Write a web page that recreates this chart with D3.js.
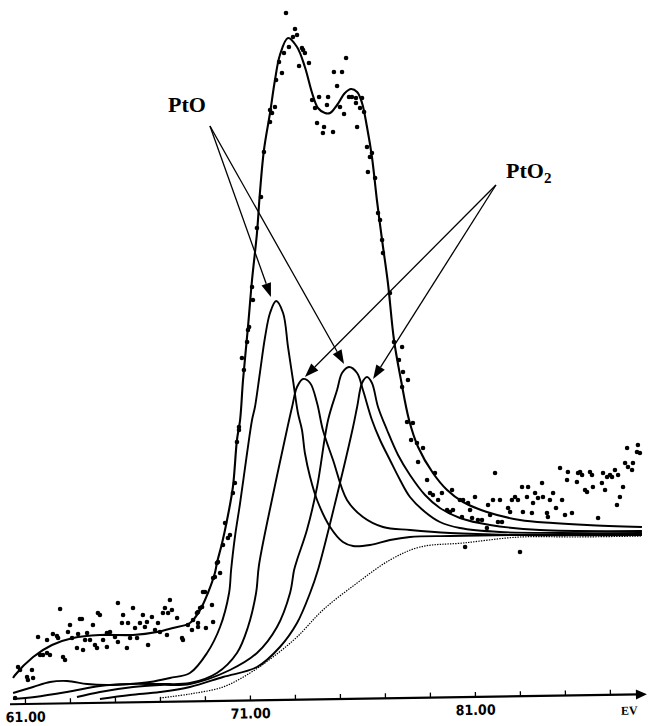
<!DOCTYPE html>
<html>
<head>
<meta charset="utf-8">
<script src="https://cdn.jsdelivr.net/npm/d3@7"></script>
<style>
  html, body { margin: 0; padding: 0; background: #fff; }
  svg { display: block; }
</style>
</head>
<body>
<svg id="chart" width="649" height="726"></svg>
<script>
// Pt 4f photoelectron spectrum: raw counts, fitted envelope,
// PtO and PtO2 doublet components and the background line.
// Each series is [binding energy (eV), counts].

const measured = [
  [72.60,6910],[73.00,6750],[73.09,6690],[72.91,6670],[72.73,6570],[72.51,6510],[72.29,6420],[72.42,6310],
  [72.16,6240],[72.11,5970],[71.89,5940],[71.98,5910],[71.89,5820],[71.62,5520],[71.49,5070],[71.31,4760],
  [71.09,4170],[73.31,6560],[73.36,6540],[73.44,6510],[73.62,6410],[73.18,6380],[73.76,6040],[73.89,5960],
  [74.07,6070],[74.47,6070],[74.42,5990],[73.98,5810],[74.24,5710],[74.29,5770],[74.69,5720],[74.73,6320],
  [75.09,6320],[74.87,6180],[75.27,6460],[75.00,5970],[75.18,5900],[75.40,6070],[75.53,6070],[75.71,6060],
  [75.98,6060],[75.71,6010],[75.89,5960],[76.07,5920],[75.76,5770],[76.20,5570],[76.42,5510],[76.33,5470],
  [76.24,5320],[76.56,5260],[76.69,4910],[76.78,4840],[76.87,4640],[76.91,4510],
  [71.13,4040],[70.96,3770],[70.91,3740],[70.87,3620],[70.64,3460],[70.73,3340],[70.51,2770],
  [77.22,4110],[77.40,3620],[77.76,3570],[77.62,3440],[77.80,3320],[77.76,3170],[78.02,3240],[77.98,2820],
  [70.51,2740],[70.42,2620],[70.33,2210],[70.24,2110],[69.89,1810],[70.11,1690],[70.02,1660],[69.80,1590],
  [69.53,1410],[69.58,1420],[69.67,1310],[69.44,1270],[69.00,1120],[69.31,990],[68.87,970],[68.69,920],
  [68.64,910],[68.47,840],[69.36,820],[68.69,770],[69.04,760],[68.42,740],
  [62.56,950],[61.58,670],[61.98,640],[62.24,700],[62.42,680],[62.47,660],[63.00,790],[62.91,720],
  [63.09,660],[63.44,850],[63.36,700],[63.76,710],[63.67,640],[63.89,640],[64.02,790],[64.24,910],
  [64.33,890],[64.64,710],[64.78,720],[65.00,670],[65.13,620],[64.47,640],[63.31,560],[63.58,540],
  [64.11,590],[64.20,560],[64.64,570],[62.69,470],[62.78,440],[65.13,1010],[65.36,890],[65.31,810],
  [65.58,810],[65.80,960],[65.89,760],[65.98,660],[65.53,560],[65.67,660],[66.24,890],[66.11,810],
  [66.42,820],[66.64,870],[66.33,770],[66.78,740],[66.91,810],[66.47,590],[67.00,720],[67.13,910],
  [67.22,960],[67.36,910],[67.44,1040],[67.53,940],[67.76,860],[67.31,690],[67.98,660],[68.02,640],
  [68.24,790],[68.69,810],[68.91,1120],[68.78,960],[69.36,1260],[63.53,850],
  [60.69,370],[60.78,340],[61.31,340],[61.09,270],[61.13,240],[61.36,260],[60.56,60],[61.80,490],
  [61.98,510],[62.11,490],[61.67,490],
  [78.69,2560],[79.22,2310],[78.87,2240],[79.00,2110],[79.13,2090],[79.36,2040],[79.53,2110],[79.98,2140],
  [79.76,1940],[79.89,1920],[80.02,1940],[80.33,2040],[80.47,2040],[80.42,1870],[80.69,2010],[80.78,1940],
  [81.00,2070],[80.87,1860],[81.13,1840],[81.31,1840],[81.58,1990],[81.67,1890],[81.80,2040],[81.89,2310],
  [82.11,2040],[82.20,1820],[82.02,1820],[81.53,1760],[82.47,1960],[82.56,1920],[82.64,2040],[82.78,2070],
  [82.91,2040],[83.09,2170],[83.13,1920],[83.36,2170],[83.31,2070],[83.53,1910],[83.67,2110],[83.80,2060],
  [83.58,2010],[83.98,2210],[84.02,2070],[84.20,1910],[84.24,1870],[84.33,2040],[84.47,2110],[84.60,1960],
  [84.78,2360],[84.87,2040],[85.00,1890],[85.13,2320],[85.09,2240],[85.31,1910],[85.53,2220],[85.58,2310],
  [85.67,2320],[85.76,2290],[85.89,2140],[85.98,2120],[86.11,2320],[86.20,2290],[86.24,2170],[86.64,2210],
  [86.69,2310],[86.78,2140],[86.87,2270],[87.00,2290],[87.09,2270],[87.22,2340],[87.36,2290],[87.31,1990],
  [87.44,2070],[87.58,2170],[87.76,2560],[87.67,2410],[87.80,2370],[87.98,2340],[88.02,2410],[88.20,2520],
  [88.24,2590],[88.33,2510],[80.56,1570],[83.00,1520],[86.47,1860],
  [78.16,2640],[78.42,2610],[78.47,2420],[78.24,2810]
];

const envelope = [
  [60.47,260],[60.56,290],[61.36,470],[62.20,590],[63.13,660],[64.33,690],[65.80,690],[66.87,720],
  [67.58,760],[68.33,810],[68.78,940],[69.13,1110],[69.44,1310],[69.53,1410],[69.76,1610],[69.98,1840],
  [70.24,2170],[70.42,2640],[70.56,2840],[70.69,3240],[70.91,3770],[71.09,4240],[71.31,4710],[71.44,5110],
  [71.62,5540],[71.89,5910],[72.11,6240],[72.33,6490],[72.69,6660],[73.09,6570],[73.44,6370],[73.76,6110],
  [74.02,5960],[74.33,5910],[74.56,5910],[74.87,5990],[75.22,6110],[75.49,6150],[75.76,6120],[75.98,6010],
  [76.20,5770],[76.42,5470],[76.64,5040],[76.87,4640],[77.13,4210],[77.40,3640],[77.71,3240],[78.07,2840],
  [78.47,2570],[79.13,2310],[79.76,2140],[80.47,2020],[81.53,1920],[83.00,1840],[84.47,1810],[85.98,1790],
  [88.42,1770]
];

// PtO 4f7/2
const ptO_a = [
  [60.47,110],[61.36,170],[62.11,220],[62.87,230],[63.76,200],[64.64,190],[65.67,200],[66.56,220],
  [67.44,260],[68.33,310],[69.09,510],[69.67,770],[70.07,1110],[70.16,1340],[70.33,1670],[70.56,2010],
  [70.87,2510],[71.09,2840],[71.22,2970],[71.44,3310],[71.67,3670],[71.89,3910],[72.16,4030],[72.47,3910],
  [72.69,3570],[72.91,3240],[73.13,2910],[73.31,2740],[73.44,2510],[73.67,2270],[73.98,2040],[74.56,1770],
  [75.13,1620],[75.58,1580],[76.33,1590],[77.22,1640],[78.11,1670],[79.89,1680],[83.00,1690],[88.42,1700]
];

// PtO2 4f7/2
const ptO2_a = [
  [60.47,50],[61.44,70],[62.87,120],[64.33,180],[65.67,200],[67.00,200],[68.33,210],[69.53,310],
  [70.42,510],[70.91,770],[71.27,1110],[71.40,1390],[72.02,2090],[72.64,2740],[72.87,2970],[73.09,3170],
  [73.36,3250],[73.67,3210],[73.98,3010],[74.24,2740],[74.69,2440],[75.31,2040],[76.02,1870],[76.91,1770],
  [78.11,1740],[79.89,1710],[83.00,1690],[88.42,1690]
];

// PtO 4f5/2
const ptO_b = [
  [63.31,70],[64.33,120],[65.80,170],[67.00,190],[68.33,200],[70.11,340],[71.31,510],[72.20,770],
  [72.78,1110],[72.96,1340],[73.09,1440],[73.53,1740],[73.98,2170],[74.47,2840],[74.87,3140],[75.09,3310],
  [75.40,3370],[75.76,3310],[76.02,3140],[76.42,2840],[76.78,2640],[77.22,2440],[77.67,2240],[78.11,2070],
  [78.78,1920],[79.44,1820],[80.33,1760],[82.11,1720],[84.78,1710],[88.42,1710]
];

// PtO2 4f5/2
const ptO2_b = [
  [64.33,50],[65.67,90],[67.00,120],[68.33,170],[69.80,270],[71.31,370],[72.33,570],[73.09,810],
  [73.67,1110],[74.02,1340],[74.87,2090],[75.58,2770],[75.76,2970],[75.98,3210],[76.20,3270],[76.42,3210],
  [76.69,2970],[77.09,2740],[77.58,2490],[78.11,2290],[78.78,2090],[79.44,1960],[80.33,1860],[81.67,1790],
  [83.89,1740],[88.42,1730]
];

const background = [
  [67.00,60],[68.33,100],[69.80,170],[71.00,310],[72.02,470],[73.09,670],[74.24,940],[75.76,1210],
  [77.22,1440],[78.56,1570],[80.47,1610],[83.00,1670],[85.53,1670],[88.42,1680]
];

const minorTicks = [61, 63, 65, 67, 69, 71, 73, 75, 77, 79, 81, 83, 85, 87];
const labelledTicks = [61, 71, 81];
const axisUnit = "EV";

// Callouts: label, where the text sits, where the arrows start and what they point at
const callouts = [
  { text: "PtO", sub: "", at: [67.36, 5920], from: [69.22, 5780], to: [[71.93, 4070], [75.18, 3400]] },
  { text: "PtO", sub: "2", at: [82.38, 5260], from: [81.93, 5190], to: [[73.44, 3270], [76.47, 3250]] }
];

// ---------------------------------------------------------------------------
const svg = d3.select("#chart");
const W = 649, H = 726;

const x = d3.scaleLinear().domain([61, 81]).range([25, 475]);
const y = d3.scaleLinear().domain([0, 7040]).range([704, 0]);

const line = d3.line()
  .x(d => x(d[0]))
  .y(d => y(d[1]))
  .curve(d3.curveCatmullRom.alpha(0.5));

const plot = svg.append("g");

// background (fine dotted line)
plot.append("path")
  .datum(background)
  .attr("d", line)
  .attr("fill", "none")
  .attr("stroke", "#000")
  .attr("stroke-width", 1.2)
  .attr("stroke-dasharray", "1.4,1.2");

// fitted components
[ptO_a, ptO2_a, ptO_b, ptO2_b].forEach(series => {
  plot.append("path")
    .datum(series)
    .attr("d", line)
    .attr("fill", "none")
    .attr("stroke", "#000")
    .attr("stroke-width", 1.9)
    .attr("stroke-linejoin", "round");
});

// envelope
plot.append("path")
  .datum(envelope)
  .attr("d", line)
  .attr("fill", "none")
  .attr("stroke", "#000")
  .attr("stroke-width", 2.1)
  .attr("stroke-linejoin", "round");

// measured points
plot.append("g")
  .selectAll("circle")
  .data(measured)
  .join("circle")
  .attr("cx", d => x(d[0]))
  .attr("cy", d => y(d[1]))
  .attr("r", 2.3)
  .attr("fill", "#000");

// callouts
const ann = svg.append("g");
function arrow(p0, p1) {
  const [x0, y0] = [x(p0[0]), y(p0[1])];
  const [x1, y1] = [x(p1[0]), y(p1[1])];
  const dx = x1 - x0, dy = y1 - y0, len = Math.hypot(dx, dy);
  const ux = dx / len, uy = dy / len;
  const headL = 14, headW = 5;
  const bx = x1 - ux * headL, by = y1 - uy * headL;
  ann.append("line")
    .attr("x1", x0).attr("y1", y0).attr("x2", bx).attr("y2", by)
    .attr("stroke", "#000").attr("stroke-width", 1.3);
  ann.append("path")
    .attr("d", `M${x1},${y1}L${bx - uy * headW},${by + ux * headW}L${bx + uy * headW},${by - ux * headW}Z`)
    .attr("fill", "#000");
}
callouts.forEach(c => {
  const t = ann.append("text")
    .attr("x", x(c.at[0]))
    .attr("y", y(c.at[1]))
    .attr("font-family", "'Liberation Serif', 'Times New Roman', serif")
    .attr("font-weight", "bold")
    .attr("font-size", 22)
    .text(c.text);
  if (c.sub) {
    t.append("tspan")
      .attr("font-size", 15)
      .attr("dy", 5)
      .text(c.sub);
  }
  c.to.forEach(p => arrow(c.from, p));
});

// x axis (the baseline runs with a slight upward slant to the right)
const axisG = svg.append("g")
  .attr("transform", `translate(0,${y(0)}) rotate(-0.9, ${x(61)}, 0)`);
axisG.append("g")
  .call(d3.axisBottom(x).tickValues(minorTicks).tickSizeInner(-5).tickSizeOuter(0).tickFormat(""))
  .call(g => g.select(".domain").remove())
  .call(g => g.selectAll("line").attr("stroke", "#000").attr("stroke-width", 1.3));
axisG.append("g")
  .call(d3.axisBottom(x).tickValues(labelledTicks).tickSizeInner(0).tickSizeOuter(0)
        .tickPadding(8).tickFormat(d3.format(".2f")))
  .call(g => g.select(".domain").remove())
  .call(g => g.selectAll("text")
    .attr("font-family", "'Liberation Sans Narrow', 'DejaVu Sans Condensed', sans-serif")
    .attr("font-weight", "bold")
    .attr("font-size", 14)
    .attr("fill", "#000"));
axisG.append("line")
  .attr("x1", 10).attr("x2", W - 10)
  .attr("y1", 0).attr("y2", 0)
  .attr("stroke", "#000").attr("stroke-width", 2.2);
axisG.append("path")
  .attr("d", `M${W - 2},0L${W - 13},-5L${W - 13},5Z`)
  .attr("fill", "#000");
axisG.append("text")
  .attr("x", 629).attr("y", 20)
  .attr("text-anchor", "middle")
  .attr("font-family", "'Liberation Serif', serif")
  .attr("font-weight", "bold")
  .attr("font-size", 12)
  .text(axisUnit);
</script>
</body>
</html>
